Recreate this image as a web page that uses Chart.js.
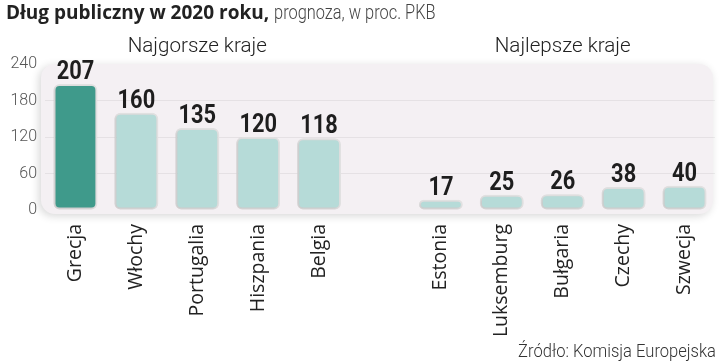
<!DOCTYPE html>
<html><head><meta charset="utf-8">
<script src="https://cdn.jsdelivr.net/npm/chart.js@4/dist/chart.umd.min.js"></script>
<style>html,body{margin:0;padding:0;background:#fff}#wrap{width:721px;height:363px;position:relative}</style>
</head><body><div id="wrap"><canvas id="c" width="721" height="363"></canvas></div>
<script>
const categories = ["Grecja","Włochy","Portugalia","Hiszpania","Belgia","","Estonia","Luksemburg","Bułgaria","Czechy","Szwecja"];
const debtValues = [207,160,135,120,118,null,17,25,26,38,40];
const yTicks = [0,60,120,180,240];
const groupTitles = ["Najgorsze kraje","Najlepsze kraje"];
const groupRanges = [[0,4],[6,10]];
const titleBold = "Dług publiczny w 2020 roku,";
const titleLight = "prognoza, w proc. PKB";
const sourceText = "Źródło: Komisja Europejska";

const dark = '#3f9a8b', light = '#b6dbd8';

// draw text squeezed/stretched horizontally
function drawScaled(ctx, text, x, y, font, sx, align){
  ctx.save(); ctx.font = font;
  const w = ctx.measureText(text).width * sx;
  let left = x;
  if(align==='center') left = x - w/2; else if(align==='right') left = x - w;
  ctx.translate(left, y); ctx.scale(sx,1); ctx.textAlign='left';
  ctx.fillText(text, 0, 0); ctx.restore();
  return w;
}

const deco = {
  id:'deco',
  beforeDraw(chart){
    const {ctx, chartArea:a} = chart;
    ctx.save();
    ctx.shadowColor='rgba(0,0,0,0.16)'; ctx.shadowBlur=8; ctx.shadowOffsetX=-2; ctx.shadowOffsetY=2;
    ctx.fillStyle='#f4f0f3';
    ctx.beginPath(); ctx.roundRect(a.left-4, a.top, a.right-a.left+2, a.bottom-a.top+4, 14); ctx.fill();
    ctx.restore();
    ctx.save(); ctx.textBaseline='alphabetic';
    ctx.fillStyle='#222';
    const w = drawScaled(ctx, titleBold, 6, 19, 'bold 19px "Open Sans", sans-serif', 1.0, 'left');
    ctx.fillStyle='#444';
    drawScaled(ctx, titleLight, 6+w+5, 19, '300 21px Roboto, sans-serif', 0.78, 'left');
    const meta = chart.getDatasetMeta(0);
    ctx.fillStyle='#222';
    groupRanges.forEach((r,i)=>{
      const cx = (meta.data[r[0]].x + meta.data[r[1]].x)/2;
      drawScaled(ctx, groupTitles[i], cx, 52, '300 21px Roboto, sans-serif', 0.98, 'center');
    });
    ctx.fillStyle='#333';
    drawScaled(ctx, sourceText, 716, 357, '300 18px Roboto, sans-serif', 0.92, 'right');
    ctx.restore();
  },
  beforeDatasetDraw(chart){
    const ctx=chart.ctx; ctx.save();
    ctx.shadowColor='rgba(0,0,0,0.15)'; ctx.shadowBlur=3; ctx.shadowOffsetX=-1; ctx.shadowOffsetY=1;
  },
  afterDatasetDraw(chart){ chart.ctx.restore(); },
  afterDatasetsDraw(chart){
    const {ctx} = chart; const meta = chart.getDatasetMeta(0);
    ctx.save(); ctx.fillStyle='#1e1e1e'; ctx.textBaseline='alphabetic';
    meta.data.forEach((el,i)=>{ if(debtValues[i]==null) return;
      drawScaled(ctx, String(debtValues[i]), el.x, el.y-5, 'bold 26px Roboto, sans-serif', 0.84, 'center'); });
    ctx.restore();
  }
};

new Chart(document.getElementById('c'), {
  type:'bar',
  data:{ labels:categories, datasets:[{ data:debtValues,
    backgroundColor: debtValues.map((v,i)=> i===0?dark:light),
    borderColor:'#e2e2e2', borderWidth:2, borderRadius:6, borderSkipped:false,
    categoryPercentage:1, barPercentage:0.72 }]},
  options:{
    responsive:false, animation:false,
    layout:{padding:{top:64,right:6,left:0,bottom:0}},
    plugins:{legend:{display:false}, tooltip:{enabled:false}},
    scales:{
      y:{ min:0, max:240, afterBuildTicks(s){ s.ticks = yTicks.map(v=>({value:v})); },
        afterFit(s){ s.width=45; },
        grid:{ color:(c)=> (c.tick && (c.tick.value===0||c.tick.value===240))?'rgba(0,0,0,0)':'rgba(0,0,0,0.06)', drawTicks:false },
        border:{display:false},
        ticks:{ padding:8, color:'#555', font:{family:'Roboto', weight:'300', size:16} } },
      x:{ grid:{display:false}, border:{display:false},
        afterFit(s){ s.height=153; },
        ticks:{ minRotation:90, maxRotation:90, autoSkip:false, padding:6, color:'#222', font:{family:'"Open Sans"', size:19.5} } }
    }
  },
  plugins:[deco]
});
</script></body></html>
